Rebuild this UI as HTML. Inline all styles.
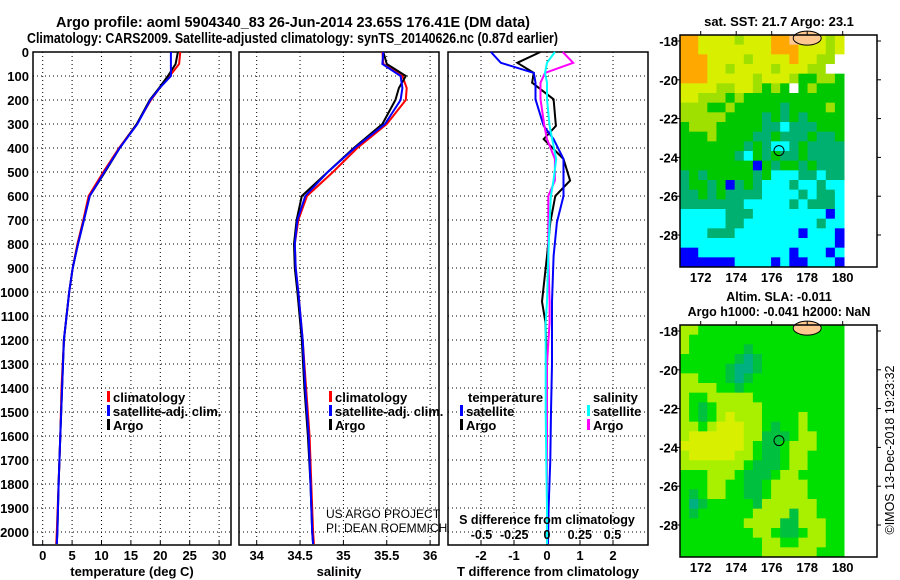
<!DOCTYPE html>
<html><head><meta charset="utf-8"><style>
body{margin:0;background:#fff}
svg{display:block;font-family:"Liberation Sans",Arial,sans-serif;font-weight:bold}
</style></head><body>
<svg id="s" width="900" height="580" xmlns="http://www.w3.org/2000/svg">
<text x="56" y="27" textLength="474" lengthAdjust="spacingAndGlyphs" font-size="14.5">Argo profile: aoml 5904340_83 26-Jun-2014 23.65S 176.41E (DM data)</text>
<text x="27" y="43" textLength="531" lengthAdjust="spacingAndGlyphs" font-size="14.5">Climatology: CARS2009. Satellite-adjusted climatology: synTS_20140626.nc (0.87d earlier)</text>
<g id="g"></g>
</svg>
<script>
// ---------- data ----------
const depths=[0,50,100,150,200,300,400,500,600,700,800,900,1000,1200,1400,1600,1800,2000,2050];
const tArgo=[23.0,22.6,21.3,19.8,18.2,16.0,13.1,10.6,8.0,7.0,6.0,5.1,4.5,3.6,3.3,3.0,2.7,2.5,2.4];
const tClim=[23.4,23.2,21.6,19.9,18.4,16.0,13.0,10.3,7.8,6.9,5.9,5.1,4.5,3.6,3.2,3.0,2.7,2.4,2.3];
const tSat=[21.8,21.8,21.8,19.9,18.3,16.1,13.1,10.5,8.0,7.0,6.0,5.1,4.5,3.6,3.3,3.0,2.7,2.5,2.4];
const sArgo=[35.46,35.5,35.72,35.64,35.6,35.45,35.12,34.82,34.52,34.46,34.43,34.44,34.47,34.52,34.55,34.59,34.62,34.64,34.65];
const sClim=[35.45,35.46,35.68,35.73,35.72,35.5,35.16,34.88,34.58,34.48,34.44,34.45,34.48,34.53,34.57,34.61,34.63,34.65,34.66];
const sSat=[35.46,35.45,35.66,35.68,35.66,35.48,35.13,34.82,34.56,34.47,34.44,34.45,34.48,34.53,34.56,34.6,34.62,34.64,34.65];
const dDepths=[0,45,87,128,197,308,363,446,536,600,710,850,1040,1125,1300,1500,1700,1900,2050];
const dTArgo=[-0.2,-0.9,-0.4,-0.45,0.2,0.27,-0.1,0.5,0.7,0.25,0.1,0.0,-0.15,-0.05,0.0,0.0,0.0,0.0,0.0];
const dTSat=[-1.7,-1.4,-0.4,-0.35,-0.35,-0.1,0.2,0.5,0.5,0.5,0.3,0.2,0.15,0.15,0.15,0.12,0.1,0.05,0.03];
const dSArgo=[0.12,0.2,-0.015,-0.05,-0.05,-0.02,0.0,0.06,0.06,0.01,0.01,0.01,0.02,0.02,0.0,0.0,0.0,0.0,0.0];
const dSSat=[0.06,0.0,-0.015,0.0,0.0,0.02,0.04,0.07,0.05,0.03,0.02,0.01,0.0,-0.01,-0.01,-0.01,-0.005,0.0,0.0];
const depthTicks=[0,100,200,300,400,500,600,700,800,900,1000,1100,1200,1300,1400,1500,1600,1700,1800,1900,2000];
const tTicks=[0,5,10,15,20,25,30];
const sTicks=[34,34.5,35,35.5,36];
const dtTicks=[-2,-1,0,1,2];
const dsTicks=[-0.5,-0.25,0,0.25,0.5];
const latTicks=[-18,-20,-22,-24,-26,-28];
const lonTicks=[172,174,176,178,180];
const sstRows=["ooyyyylyyyoosssyly","ooyyyyyyyyoooyyyly","oooyyyylyyyyoyyllw","oooyylyyyylyyyllww","oooyyyyylyyylggllg","yyyyllyylglgwglggg","yylllglggggggggggg","lllgglgggggtgggglg","lllllggggtgtgtgggg","glllgggggttctttggg","ggglggggttgtttgttg","gggggggtgtcctgtttt","ggggggtcgtgttgtttt","ggggggggbgtggtgttt","tgtgggggtgcccttctt","tggtgbtgtccctcctcc","ttgtgttttcccctcttc","tttttttccccctctttc","ccccctttccccccccbc","cccccttcccccccctcc","ccctttcccccccbcccb","cccccccccccccccccb","bbccccccccccbcccbc","bbbbbbccccbcbbcccb"];
const slaRows=["LLGGGGGGGGGGGGGGGG","LGGGGGGGGGGGGGGGGG","LGGGGGGdGGGGGGGGGG","GGGGGGdTdGGGGGGGGG","GGGGGdTTdGGGGGGGGG","LLGGGdTdGGGGGGGGGG","LLLLGGdGGGGGGGGGGG","LGGLLLLLGGGGGGGGGG","LGdGLLLLLGGGGGGGGG","LGdGLYLLLGGGGLGGGG","LLGLYYYLLGdGGLGGGG","LYYYYYYLLdddGLLGGG","YYYYYYYLGddGLLLGGG","LYYYYYLLGddGLLGGGG","LLLLLLLGdddGLLGGGG","GGGLLLGdddGLLGGGGG","GGGLLGGddGLLLLGGGG","GdGLLGGddGLLLLGGGG","GTdGGGGGdLLLLLLGGG","GdGGGGGGLLLLdLLGGG","GGGGGGGLLLLddLLLGG","GGGGGGGGLLGddGLLGG","GGGGGGGGGLLGGLLLGG","GGGGGGGGGLLLLLLGGG"];
const floatLon=176.41, floatLat=-23.65;
// ---------- helpers ----------
const NS="http://www.w3.org/2000/svg", G=document.getElementById('g');
function el(t,a,p){const e=document.createElementNS(NS,t);for(const k in a)e.setAttribute(k,a[k]);(p||G).appendChild(e);return e;}
function txt(x,y,s,fs,anchor,p){const e=el('text',{x:x,y:y,'font-size':fs,'text-anchor':anchor||'middle'},p);e.textContent=s;return e;}
const Y0=52, PY=0.24, BOT=545;
const yD=d=>Y0+d*PY;
const panels=[
 {name:'temperature',x0:33,x1:231,sc:v=>42.7+v*5.88,ticks:tTicks,label:'temperature (deg C)'},
 {name:'salinity',x0:239,x1:439,sc:v=>256.7+(v-34)*86.7,ticks:sTicks,label:'salinity'},
 {name:'difference',x0:448,x1:648,sc:v=>547+v*33,ticks:dtTicks,label:'T difference from climatology'}];
const dsx=v=>547+v*131;
panels.forEach((P,i)=>{
 const g=el('g',{});
 
 
 depthTicks.forEach(d=>{ if(d>0) el('line',{x1:P.x0,x2:P.x1,y1:yD(d),y2:yD(d),stroke:'#000','stroke-width':1,'stroke-dasharray':'1 3'},g);});
 P.ticks.forEach(t=>{const x=P.sc(t); el('line',{x1:x,x2:x,y1:Y0,y2:BOT,stroke:'#000','stroke-width':1,'stroke-dasharray':'1 3'},g);
   el('line',{x1:x,x2:x,y1:BOT-4,y2:BOT,stroke:'#000'},g);
   txt(x,560,String(t),13,'middle',g);});
 el('rect',{x:P.x0,y:Y0,width:P.x1-P.x0,height:BOT-Y0,fill:'none',stroke:'#000','stroke-width':1.5},g);
 txt((P.x0+P.x1)/2,576,P.label,13,'middle',g);
});
const ya=el('g',{});


depthTicks.forEach(d=>txt(29,yD(d)+5,String(d),13,'end',ya));
function line(xs,ds,sc,col,name){
 const pts=xs.map((v,i)=>sc(v).toFixed(1)+','+yD(ds[i]).toFixed(1)).join(' ');
 const e=el('polyline',{points:pts,fill:'none',stroke:col,'stroke-width':2});
 
 
}
const p0=panels[0].sc,p1=panels[1].sc,p2=panels[2].sc;
line(tClim,depths,p0,'#f00','temp-climatology-line');
line(tArgo,depths,p0,'#000','temp-argo-line');
line(tSat,depths,p0,'#00f','temp-satellite-line');
line(sClim,depths,p1,'#f00','sal-climatology-line');
line(sArgo,depths,p1,'#000','sal-argo-line');
line(sSat,depths,p1,'#00f','sal-satellite-line');
line(dTArgo,dDepths,p2,'#000','tdiff-argo-line');
line(dTSat,dDepths,p2,'#00f','tdiff-satellite-line');
line(dSArgo,dDepths,dsx,'#f0f','sdiff-argo-line');
line(dSSat,dDepths,dsx,'#0ff','sdiff-satellite-line');
function leg(x,y,col,s,name){const g=el('g',{});
 el('rect',{x:x,y:y-11,width:3,height:11,fill:col},g); if(s) txt(x+6,y,s,13,'start',g);}
leg(107,402,'#f00','climatology','legend-climatology');
leg(107,416,'#00f','satellite-adj. clim.','legend-satellite');
leg(107,430,'#000','Argo','legend-argo');
leg(329,402,'#f00','climatology','legend-sal-climatology');
leg(329,416,'#00f','satellite-adj. clim.','legend-sal-satellite');
leg(329,430,'#000','Argo','legend-sal-argo');
txt(468,402,'temperature',13,'start');
leg(460,416,'#00f','satellite','legend-t-satellite');
leg(460,430,'#000','Argo','legend-t-argo');
txt(593,402,'salinity',13,'start');
leg(587,416,'#0ff','satellite','legend-s-satellite');
leg(587,430,'#f0f','Argo','legend-s-argo');
const cr=el('g',{'font-weight':'normal'});
txt(326,518,'US ARGO PROJECT',12,'start',cr);txt(326,532,'PI: DEAN ROEMMICH',12,'start',cr);
txt(547,524,'S difference from climatology',12.5,'middle');
dsTicks.forEach(t=>txt(dsx(t),539,String(t),12.5,'middle'));
// ---------- maps ----------
const MX0=680,MX1=877,DX1=844,lonX=l=>700.7+(l-172)*17.75;
const colsSST={o:'#ffa800',y:'#d8f000',l:'#a0e000',g:'#00c800',t:'#00b070',c:'#00ffff',b:'#0000ff',w:'#ffffff',s:'#ffc890'};
const colsSLA={G:'#00e000',d:'#00c040',T:'#00b080',L:'#a8f000',Y:'#d8f000'};
function map(top,bot,latY,rows,cols,name){
 const g=el('g',{});
 const cw=(DX1-MX0)/rows[0].length, ch=(bot-top)/rows.length;
 rows.forEach((r,i)=>[...r].forEach((c,j)=>{const e=el('rect',{x:MX0+j*cw,y:top+i*ch,width:cw+0.5,height:ch+0.5,fill:cols[c]},g);}));
 el('ellipse',{cx:lonX(178.0),cy:latY(-17.85),rx:14,ry:7,fill:'#ffc890',stroke:'#000'},g);
 el('circle',{cx:lonX(floatLon),cy:latY(floatLat),r:5,fill:'none',stroke:'#000'},g);
 el('rect',{x:MX0,y:top,width:MX1-MX0,height:bot-top,fill:'none',stroke:'#000','stroke-width':1.5},g);
 latTicks.forEach(l=>{const y=latY(l);el('line',{x1:MX1,x2:MX1+4,y1:y,y2:y,stroke:'#000'},g);el('line',{x1:MX0-4,x2:MX0,y1:y,y2:y,stroke:'#000'},g);txt(MX0-2,y+5,String(l),13,'end',g);});
 lonTicks.forEach(l=>{const x=lonX(l);el('line',{x1:x,x2:x,y1:top-4,y2:top,stroke:'#000'},g);txt(x,bot+15,String(l),13,'middle',g);});
}
map(35,267,l=>41+(-18-l)*19.4,sstRows,colsSST,'sst-map');
map(325,557,l=>331+(-18-l)*19.4,slaRows,colsSLA,'sla-map');
txt(779,26,'sat. SST: 21.7 Argo: 23.1',13);
txt(779,301,'Altim. SLA: -0.011',12.5);
txt(779,316,'Argo h1000: -0.041 h2000: NaN',12.5);
const ts=el('text',{x:0,y:0,'font-size':12.5,'font-weight':'normal','text-anchor':'middle',transform:'translate(894,450) rotate(-90)'});
ts.textContent='©IMOS 13-Dec-2018 19:23:32';


</script>
</body></html>
